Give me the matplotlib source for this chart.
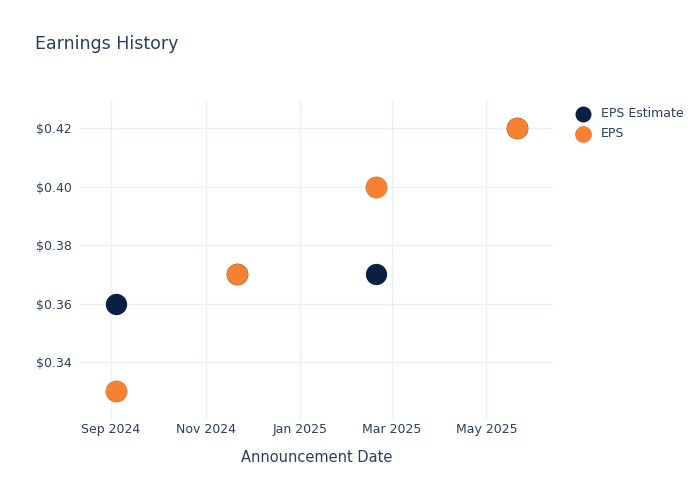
import numpy as np
import pandas as pd
import matplotlib.pyplot as plt
import matplotlib.dates as mdates
from matplotlib.ticker import FuncFormatter

dates = pd.to_datetime(['2024-09-04', '2024-11-21', '2025-02-19', '2025-05-21'])
eps_estimate = [0.36, 0.37, 0.37, 0.42]
eps_actual = [0.33, 0.37, 0.40, 0.42]

txt = '#2a3f5f'
navy = '#0b1f42'
orange = '#f58233'

fig = plt.figure(figsize=(7, 5), dpi=100)
ax = fig.add_axes([80/700, 80/500, 473/700, 320/500])

ax.scatter(dates, eps_estimate, s=235, color=navy, label='EPS Estimate', zorder=3, linewidths=0)
ax.scatter(dates, eps_actual, s=235, color=orange, label='EPS', zorder=4,
           edgecolors='#d9702a', linewidths=0.4)

ax.set_xlim(pd.Timestamp('2024-08-12'), pd.Timestamp('2025-06-13'))
ax.set_ylim(0.3202, 0.4296)
ax.set_yticks([0.34, 0.36, 0.38, 0.40, 0.42])
ax.yaxis.set_major_formatter(FuncFormatter(lambda v, p: '$%.2f' % v))
ax.set_xticks(pd.to_datetime(['2024-09-01', '2024-11-01', '2025-01-01', '2025-03-01', '2025-05-01']))
ax.xaxis.set_major_formatter(mdates.DateFormatter('%b %Y'))

ax.grid(True, color='#ebf0f8', linewidth=1)
ax.set_axisbelow(True)
for s in ax.spines.values():
    s.set_visible(False)
ax.tick_params(length=0, colors=txt, labelsize=9)
ax.tick_params(axis='y', pad=6)
ax.tick_params(axis='x', pad=2)
ax.set_xlabel('Announcement Date', color=txt, fontsize=10.5, labelpad=10)

fig.text(35/700, 1 - 44/500, 'Earnings History', color=txt, fontsize=12.5, va='center')

leg = ax.legend(loc='upper left', bbox_to_anchor=(1.013, 1.013), frameon=False,
                fontsize=9, labelcolor=txt, handletextpad=0.45, labelspacing=0.55,
                markerscale=0.75)

fig.savefig('out.png', dpi=100)
